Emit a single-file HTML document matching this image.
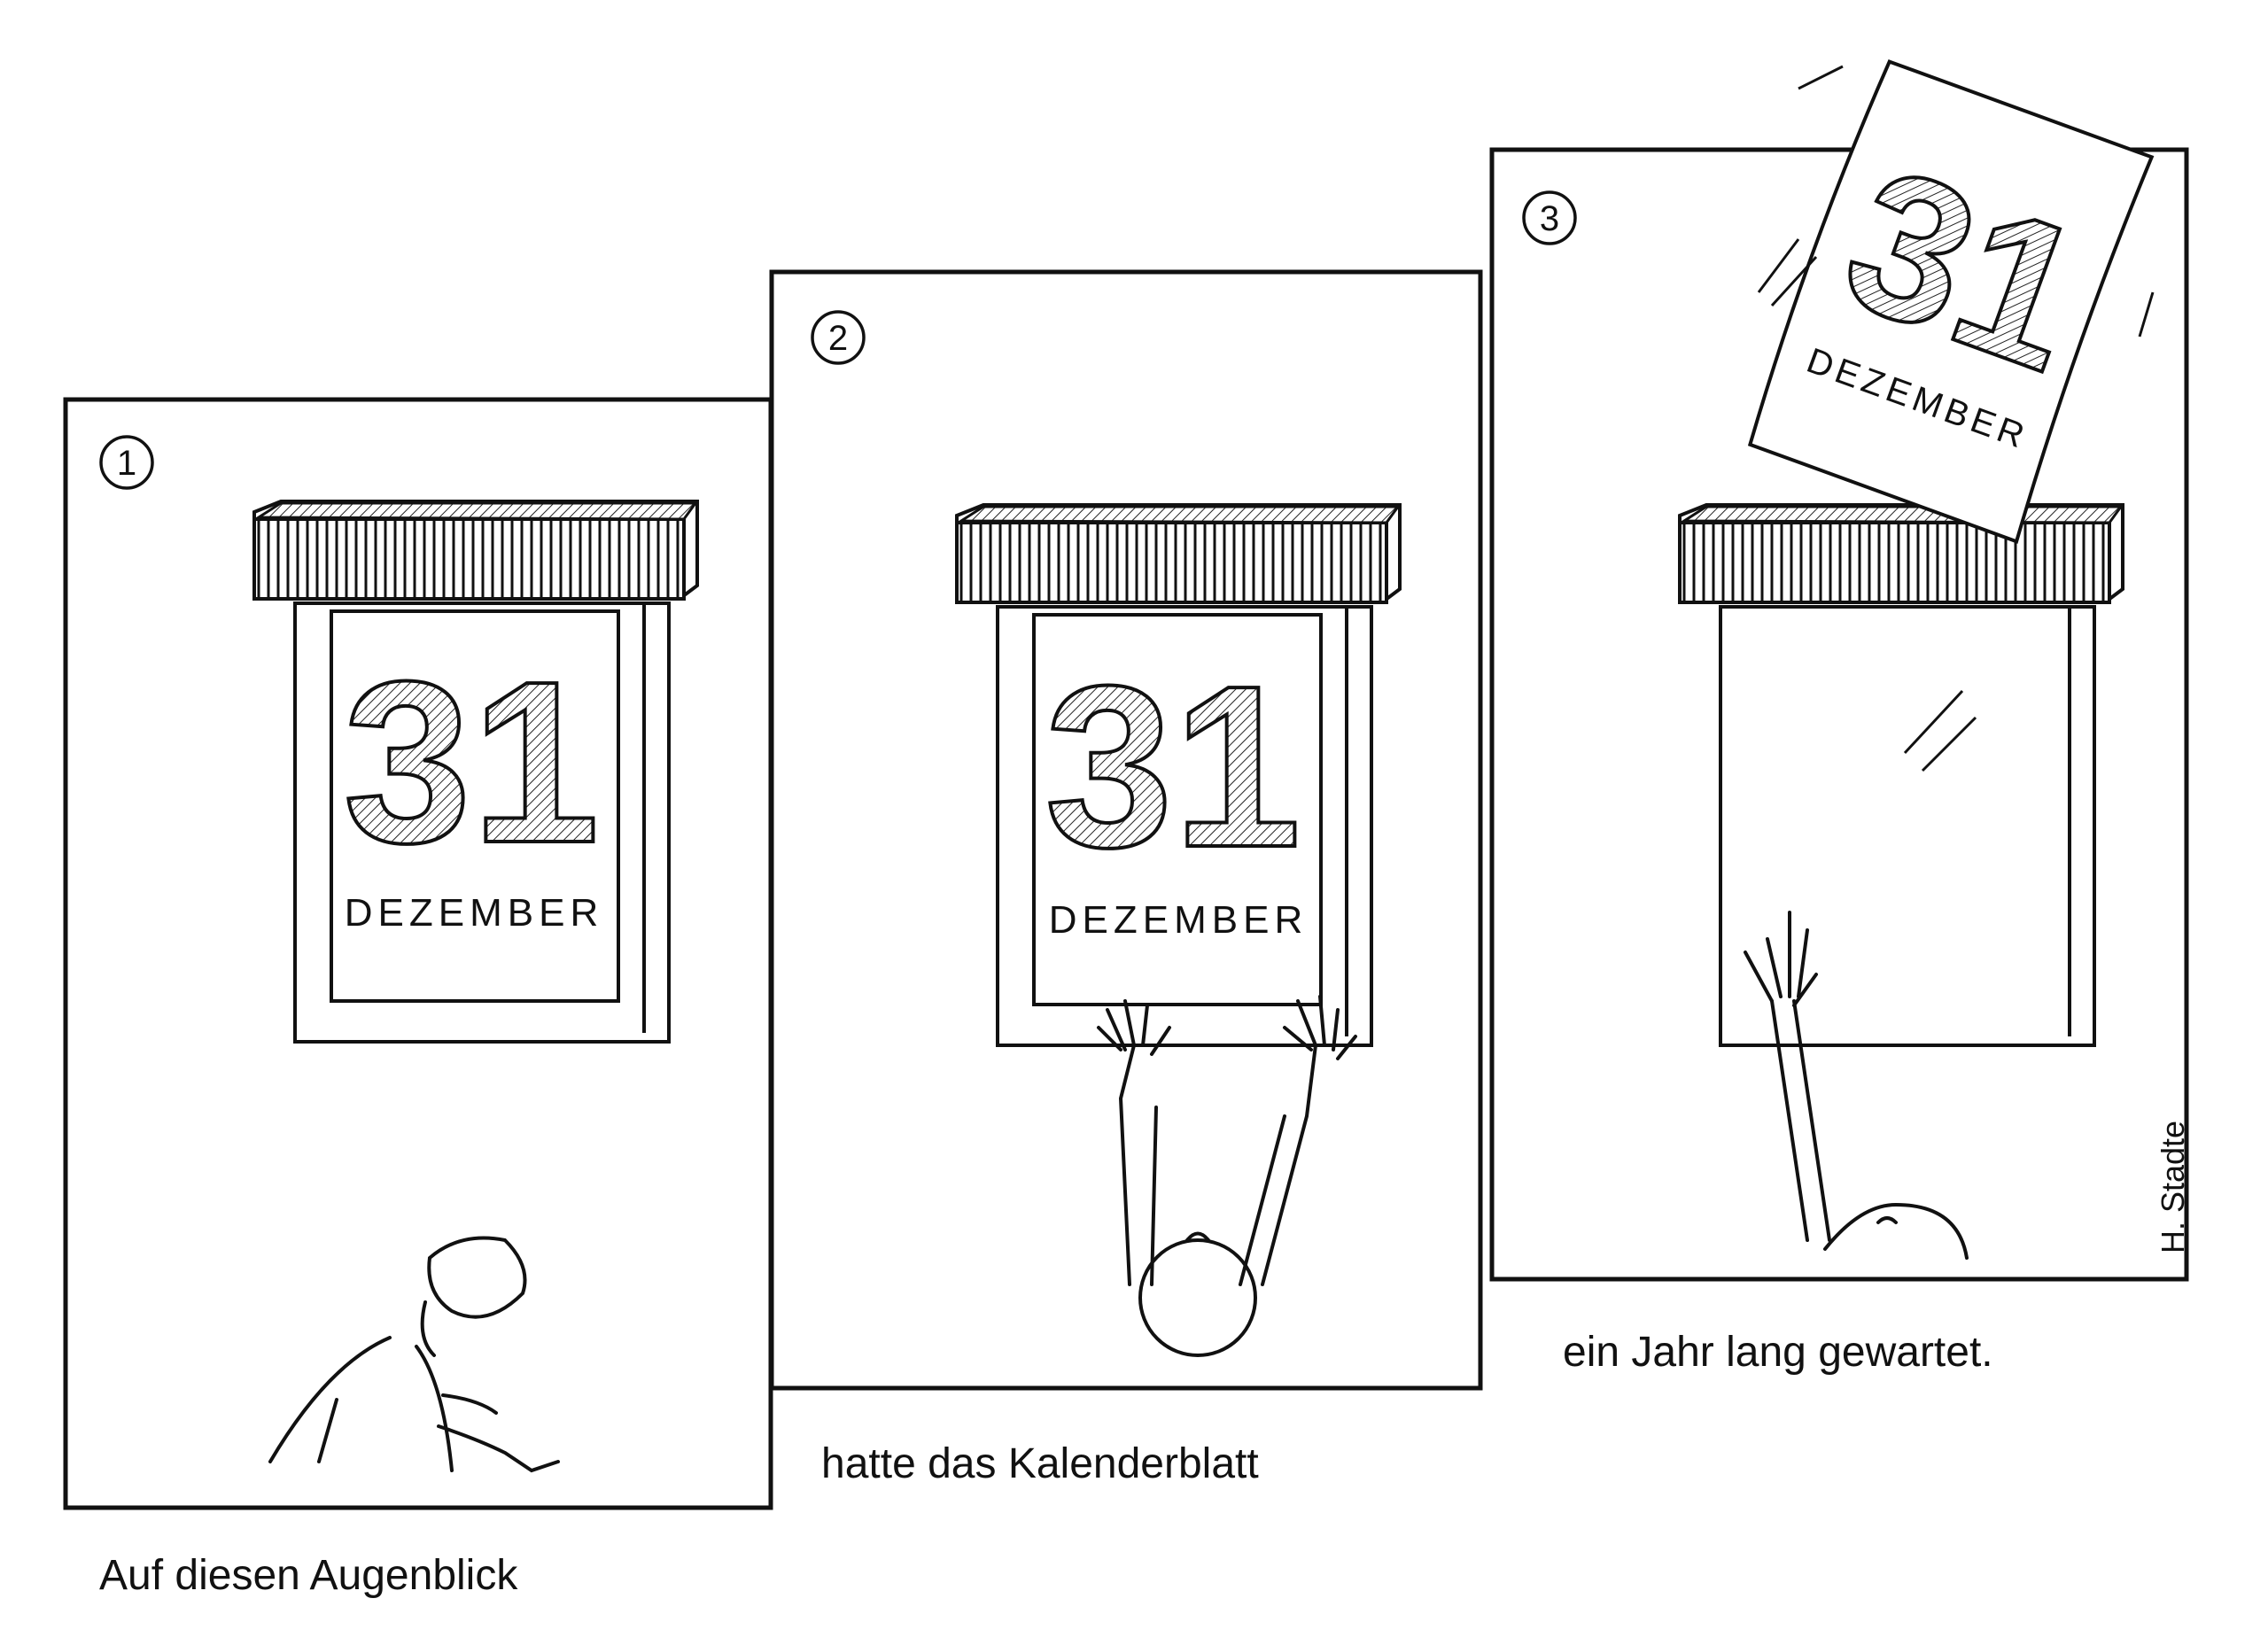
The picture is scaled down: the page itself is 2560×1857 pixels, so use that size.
<!DOCTYPE html>
<html><head><meta charset="utf-8"><style>
html,body{margin:0;padding:0;background:#fff;}
svg{display:block}
</style></head><body>
<svg width="2560" height="1857" viewBox="0 0 2560 1857" xmlns="http://www.w3.org/2000/svg">
<defs>
<pattern id="v" width="11" height="20" patternUnits="userSpaceOnUse"><rect width="11" height="20" fill="#fff"/><line x1="5" y1="0" x2="5" y2="20" stroke="#111" stroke-width="3"/></pattern>
<pattern id="h" width="8" height="8" patternUnits="userSpaceOnUse" patternTransform="rotate(45)"><rect width="8" height="8" fill="#fff"/><line x1="0" y1="0" x2="0" y2="8" stroke="#222" stroke-width="2"/></pattern>
<g id="cal">
<polygon points="0,12 30,0 500,0 500,95 480,110 0,110" fill="#fff" stroke="#111" stroke-width="4"/>
<rect x="0" y="20" width="485" height="90" fill="url(#v)" stroke="#111" stroke-width="4"/>
<polygon points="5,18 30,2 498,2 485,20" fill="url(#h)" stroke="#111" stroke-width="3"/>
<rect x="46" y="115" width="422" height="495" fill="none" stroke="#111" stroke-width="4"/>
<line x1="440" y1="115" x2="440" y2="600" stroke="#111" stroke-width="4"/>
</g>
</defs>
<rect width="2560" height="1857" fill="#fff"/>
<g fill="none" stroke="#111" stroke-width="5">
<rect x="74" y="451" width="796" height="1251"/>
<rect x="871" y="307" width="800" height="1260"/>
<rect x="1684" y="169" width="784" height="1275"/>
</g>
<g fill="none" stroke="#111" stroke-width="3.5">
<circle cx="143" cy="522" r="29"/><circle cx="946" cy="381" r="29"/><circle cx="1749" cy="246" r="29"/>
</g>
<g font-family="Liberation Sans, sans-serif" font-size="40" text-anchor="middle" fill="#111">
<text x="143" y="536">1</text><text x="946" y="395">2</text><text x="1749" y="260">3</text>
</g>
<use href="#cal" x="287" y="566"/>
<use href="#cal" x="1080" y="570"/>
<use href="#cal" x="1896" y="570"/>
<rect x="374" y="690" width="324" height="440" fill="none" stroke="#111" stroke-width="4"/>
<rect x="1167" y="694" width="324" height="440" fill="none" stroke="#111" stroke-width="4"/>
<g font-family="Liberation Sans, sans-serif" font-weight="bold" fill="url(#h)" stroke="#111" stroke-width="4">
<text x="532" y="950" font-size="260" text-anchor="middle">31</text>
<text x="1324" y="955" font-size="260" text-anchor="middle">31</text>
</g>
<g font-family="Liberation Sans, sans-serif" font-size="44" fill="#111" text-anchor="middle" letter-spacing="6">
<text x="535" y="1045">DEZEMBER</text>
<text x="1330" y="1053">DEZEMBER</text>
</g>
<g transform="translate(2195,337) rotate(20)">
<path d="M-150,-230 L165,-230 Q155,0 170,230 L-150,230 Q-165,0 -150,-230Z" fill="#fff" stroke="#111" stroke-width="4"/>
<text x="10" y="40" font-family="Liberation Sans, sans-serif" font-weight="bold" font-size="230" text-anchor="middle" fill="url(#h)" stroke="#111" stroke-width="4">31</text>
<text x="10" y="130" font-family="Liberation Sans, sans-serif" font-size="40" text-anchor="middle" letter-spacing="5" fill="#111">DEZEMBER</text>
</g>
<g fill="none" stroke="#111" stroke-width="3">
<path d="M2030,100 L2080,75"/><path d="M1985,330 L2030,270"/><path d="M2000,345 L2050,290"/>
<path d="M2415,380 L2430,330"/><path d="M2150,850 L2215,780"/><path d="M2170,870 L2230,810"/>
</g>
<g fill="none" stroke="#111" stroke-width="4" stroke-linecap="round">
<path d="M485,1420 Q520,1390 570,1400 Q600,1430 590,1460 Q550,1500 510,1480 Q480,1460 485,1420Z"/>
<path d="M480,1470 Q470,1510 490,1530"/>
<path d="M440,1510 Q370,1540 305,1650"/>
<path d="M470,1520 Q500,1560 510,1660"/>
<path d="M500,1575 Q540,1580 560,1595 M495,1610 Q540,1625 570,1640 L600,1660 L630,1650"/>
<path d="M380,1580 L360,1650"/>
<circle cx="1352" cy="1465" r="65"/>
<path d="M1340,1400 Q1352,1385 1364,1400"/>
<path d="M1275,1450 L1265,1240 L1280,1180 M1300,1450 L1305,1250 M1425,1450 L1475,1260 L1485,1180 M1400,1450 L1450,1260"/>
<path d="M1270,1185 L1250,1140 M1280,1180 L1270,1130 M1290,1180 L1295,1135 M1300,1190 L1320,1160 M1265,1185 L1240,1160"/>
<path d="M1480,1185 L1450,1160 M1485,1180 L1465,1130 M1495,1180 L1490,1125 M1505,1185 L1510,1140 M1510,1195 L1530,1170"/>
<path d="M2040,1400 L2000,1130 M2065,1400 L2025,1130"/>
<path d="M2000,1130 L1970,1075 M2010,1125 L1995,1060 M2020,1125 L2020,1030 M2030,1125 L2040,1050 M2025,1135 L2050,1100"/>
<path d="M2060,1410 Q2100,1360 2140,1360 Q2210,1360 2220,1420 M2120,1380 Q2130,1370 2140,1380"/>
</g>
<text transform="translate(2465,1415) rotate(-90)" font-family="Liberation Sans, sans-serif" font-size="36" fill="#111">H. Stadte</text>
<g font-family="Liberation Sans, sans-serif" font-size="48" fill="#111">
<text x="112" y="1794">Auf diesen Augenblick</text>
<text x="927" y="1668">hatte das Kalenderblatt</text>
<text x="1764" y="1542">ein Jahr lang gewartet.</text>
</g>
</svg>
</body></html>
